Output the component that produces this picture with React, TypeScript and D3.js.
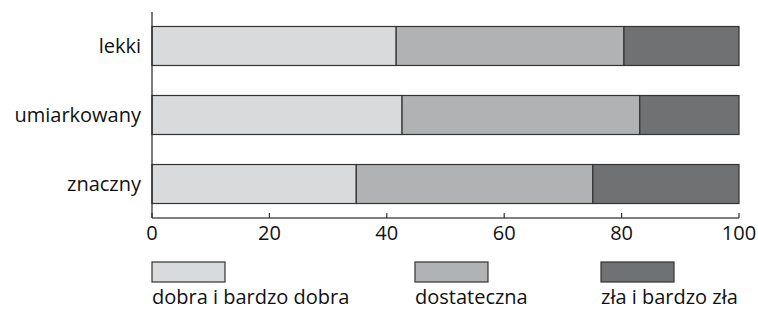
import React from 'react'
import * as d3 from 'd3'

const categories = ['lekki', 'umiarkowany', 'znaczny']
const seriesNames = ['dobra i bardzo dobra', 'dostateczna', 'zła i bardzo zła']
const dobra = [41.6, 42.6, 34.8]
const dostateczna = [38.8, 40.5, 40.3]
const zla = [19.6, 16.9, 24.9]
const ticks = [0, 20, 40, 60, 80, 100]

const colors = ['#d9dadb', '#b1b2b3', '#707173']
const W = 758
const H = 311
const font = '"Open Sans", sans-serif'

export default function App() {
  const x = d3.scaleLinear().domain([0, 100]).range([152, 739])
  const y = d3.scaleBand().domain(categories).range([12, 218]).paddingInner(0.435).paddingOuter(0.21)

  const rows = categories.map((c, i) => ({ cat: c, vals: [dobra[i], dostateczna[i], zla[i]] }))
  const stacked = d3.stack<any>().keys([0, 1, 2] as any).value((d: any, k: any) => d.vals[k])(rows as any)

  const legendX = [152, 415, 601]

  return (
    <svg width={W} height={H} style={{ position: 'absolute', left: 0, top: 0 }} fontFamily={font}>
      {stacked.map((s, si) =>
        s.map((d, i) => (
          <rect
            key={`${si}-${i}`}
            x={x(d[0])}
            y={y(categories[i])}
            width={x(d[1]) - x(d[0])}
            height={y.bandwidth()}
            fill={colors[si]}
            stroke="#333"
            strokeWidth={1.2}
          />
        ))
      )}
      <line x1={152} x2={152} y1={12} y2={218} stroke="#222" strokeWidth={1.2} />
      <line x1={152} x2={739} y1={218} y2={218} stroke="#555" strokeWidth={1.5} />
      {ticks.map((t) => (
        <g key={t}>
          <line x1={x(t)} x2={x(t)} y1={213} y2={218} stroke="#333" strokeWidth={1.2} />
          <text x={x(t)} y={240} textAnchor="middle" fontSize={20} fill="#111">
            {t}
          </text>
        </g>
      ))}
      {categories.map((c) => (
        <text key={c} x={141} y={y(c)! + y.bandwidth() / 2 + 7} textAnchor="end" fontSize={20} fill="#111">
          {c}
        </text>
      ))}
      {seriesNames.map((n, i) => (
        <g key={n}>
          <rect x={legendX[i]} y={262} width={73} height={20} fill={colors[i]} stroke="#333" strokeWidth={1.2} />
          <text x={legendX[i]} y={304} fontSize={20} fill="#111">
            {n}
          </text>
        </g>
      ))}
    </svg>
  )
}
